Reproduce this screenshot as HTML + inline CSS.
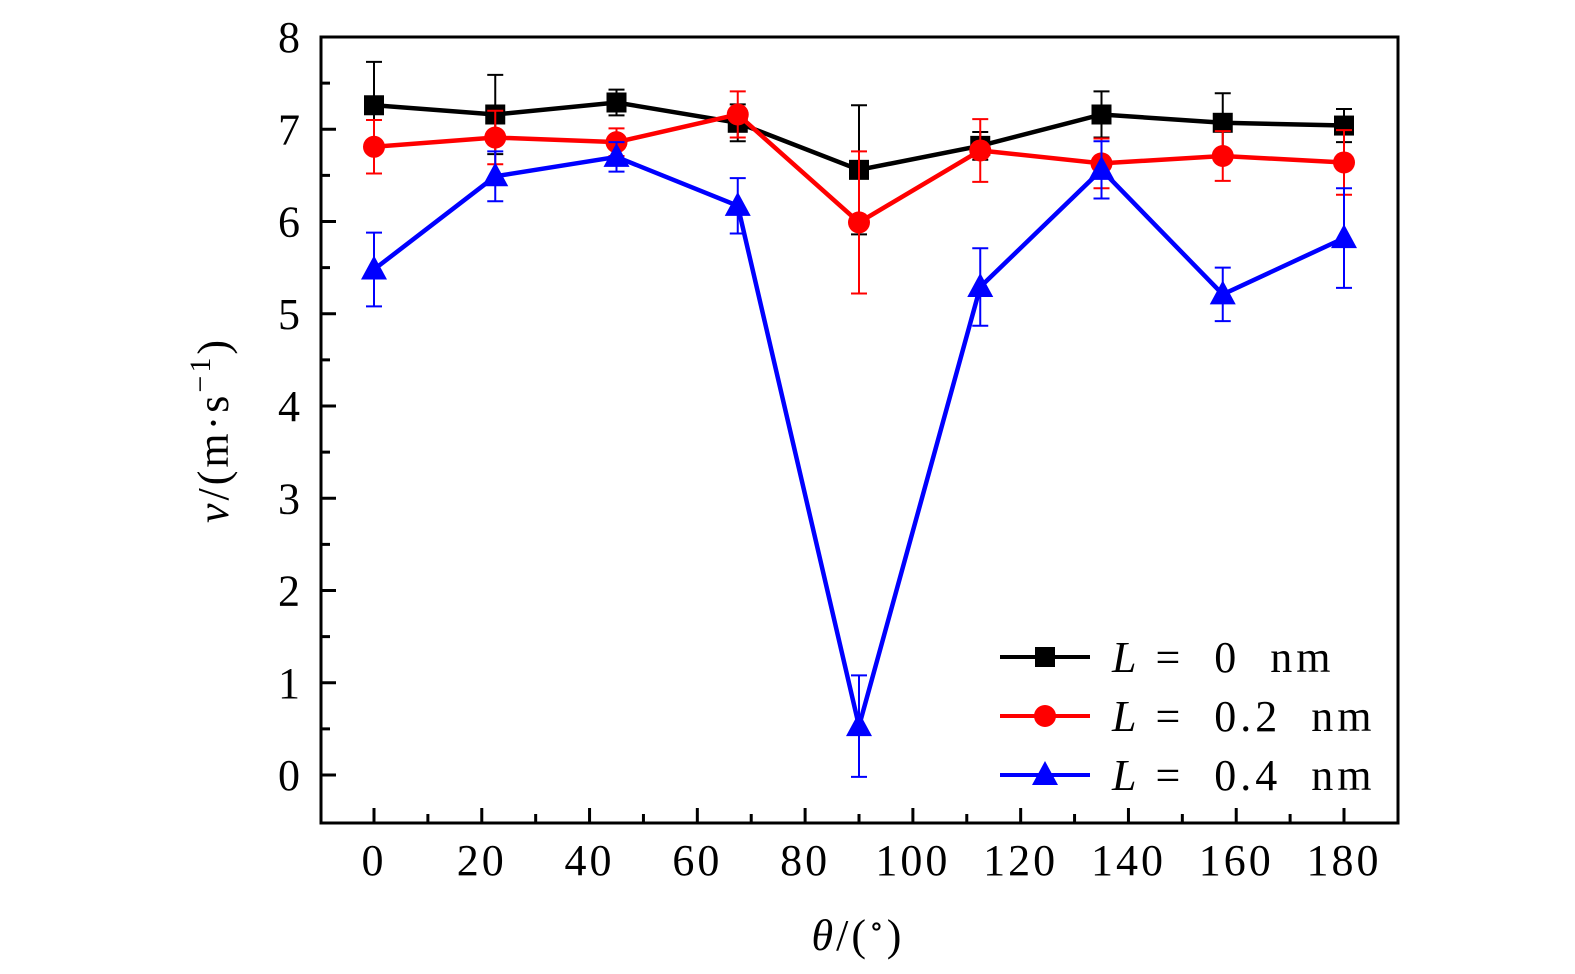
<!DOCTYPE html>
<html><head><meta charset="utf-8"><style>
body{margin:0;background:#fff}
svg{display:block}
text{font-family:"Liberation Serif","DejaVu Serif",serif;fill:#000}
</style></head><body>
<svg id="chart" width="1575" height="974" viewBox="0 0 1575 974" xmlns="http://www.w3.org/2000/svg">
<g id="axes"></g>
<g id="series"></g>
<g id="legend"></g>
<text transform="translate(228,430) rotate(-90)" text-anchor="middle" font-size="44" letter-spacing="3"><tspan font-style="italic">v</tspan>/(m·s<tspan dy="-18" font-size="30">−1</tspan><tspan dy="18">)</tspan></text>
<text x="858" y="950" text-anchor="middle" font-size="44" letter-spacing="3"><tspan font-style="italic">θ</tspan>/(<tspan dy="-14" font-size="30">∘</tspan><tspan dy="14">)</tspan></text>
</svg>
<script>
const angles=[0,22.5,45,67.5,90,112.5,135,157.5,180];
const v0=[7.26,7.16,7.29,7.07,6.56,6.82,7.16,7.07,7.04];
const e0=[0.47,0.43,0.14,0.2,0.7,0.15,0.25,0.32,0.18];
const v2=[6.81,6.91,6.86,7.16,5.99,6.77,6.63,6.71,6.64];
const e2=[0.29,0.29,0.15,0.25,0.77,0.34,0.27,0.27,0.35];
const v4=[5.48,6.49,6.70,6.17,0.53,5.29,6.56,5.21,5.82];
const e4=[0.4,0.27,0.16,0.3,0.55,0.42,0.31,0.29,0.54];
const xTicks=[0,20,40,60,80,100,120,140,160,180];
const yTicks=[0,1,2,3,4,5,6,7,8];
const legendLabels=["0","0.2","0.4"];

const NS="http://www.w3.org/2000/svg";
const X0=321,X1=1398,Y0=37,Y1=823;
const sx=v=>374+(v-0)*(1344-374)/180;
const sy=v=>775-v*(775-37)/8;
function mk(tag,attrs,parent){const e=document.createElementNS(NS,tag);for(const k in attrs)e.setAttribute(k,attrs[k]);parent.appendChild(e);return e;}
const axes=document.getElementById('axes');
const frame=mk('rect',{x:X0,y:Y0,width:X1-X0,height:Y1-Y0,fill:'none',stroke:'#000','stroke-width':3},axes);


xTicks.forEach((t,i)=>{
  const x=sx(t);
  const tk=mk('line',{x1:x,x2:x,y1:Y1,y2:Y1-15,stroke:'#000','stroke-width':3},axes);
  
  
  if(i<xTicks.length-1){const m=sx(t+10);const mt=mk('line',{x1:m,x2:m,y1:Y1,y2:Y1-9,stroke:'#000','stroke-width':3},axes);
    
    }
  const lb=mk('text',{x:x,y:875,'text-anchor':'middle','font-size':44,'letter-spacing':3},axes);lb.textContent=t;
  
  
});
yTicks.forEach((t,i)=>{
  const y=sy(t);
  const tk=mk('line',{x1:X0,x2:X0+15,y1:y,y2:y,stroke:'#000','stroke-width':3},axes);
  
  
  if(i<yTicks.length-1){const m=sy(t+0.5);const mt=mk('line',{x1:X0,x2:X0+9,y1:m,y2:m,stroke:'#000','stroke-width':3},axes);
    
    }
  const lb=mk('text',{x:300,y:y+15,'text-anchor':'end','font-size':44},axes);lb.textContent=t;
  
  
});
function marker(shape,x,y,color,parent){
  let e;
  if(shape==='sq')e=mk('rect',{x:x-10,y:y-10,width:20,height:20,fill:color},parent);
  else if(shape==='ci')e=mk('circle',{cx:x,cy:y,r:11,fill:color},parent);
  else e=mk('polygon',{points:`${x},${y-14} ${x+13},${y+10} ${x-13},${y+10}`,fill:color},parent);
  return e;
}
const ser=document.getElementById('series');
const defs=[[v0,e0,'#000','sq','series-l0'],[v2,e2,'#f00','ci','series-l02'],[v4,e4,'#00f','tri','series-l04']];
defs.forEach(([vals,errs,c,shape,name])=>{
  const g=mk('g',{},ser);
  
  
  vals.forEach((v,i)=>{
    const x=sx(angles[i]),yt=sy(v+errs[i]),yb=sy(v-errs[i]);
    const eb=mk('path',{d:`M${x},${yt}V${yb}M${x-8},${yt}H${x+8}M${x-8},${yb}H${x+8}`,stroke:c,'stroke-width':2,fill:'none'},g);
    
    
  });
  const ln=mk('polyline',{points:vals.map((v,i)=>sx(angles[i])+','+sy(v)).join(' '),fill:'none',stroke:c,'stroke-width':4.5},g);
  
  
  vals.forEach((v,i)=>{
    const m=marker(shape,sx(angles[i]),sy(v),c,g);
    
    
  });
});
const leg=document.getElementById('legend');
defs.forEach(([v,e,c,shape],i)=>{
  const y=657+i*59;
  const g=mk('g',{},leg);
  
  
  mk('line',{x1:1000,x2:1090,y1:y,y2:y,stroke:c,'stroke-width':4},g);
  marker(shape,1045,y,c,g);
  const t=mk('text',{x:1112,y:y+15,'font-size':44,'letter-spacing':4},g);
  t.innerHTML='<tspan font-style="italic">L</tspan> =  '+legendLabels[i]+'  nm';
  t.setAttribute('xml:space','preserve');
  t.style.whiteSpace='pre';
});
</script>
</body></html>
